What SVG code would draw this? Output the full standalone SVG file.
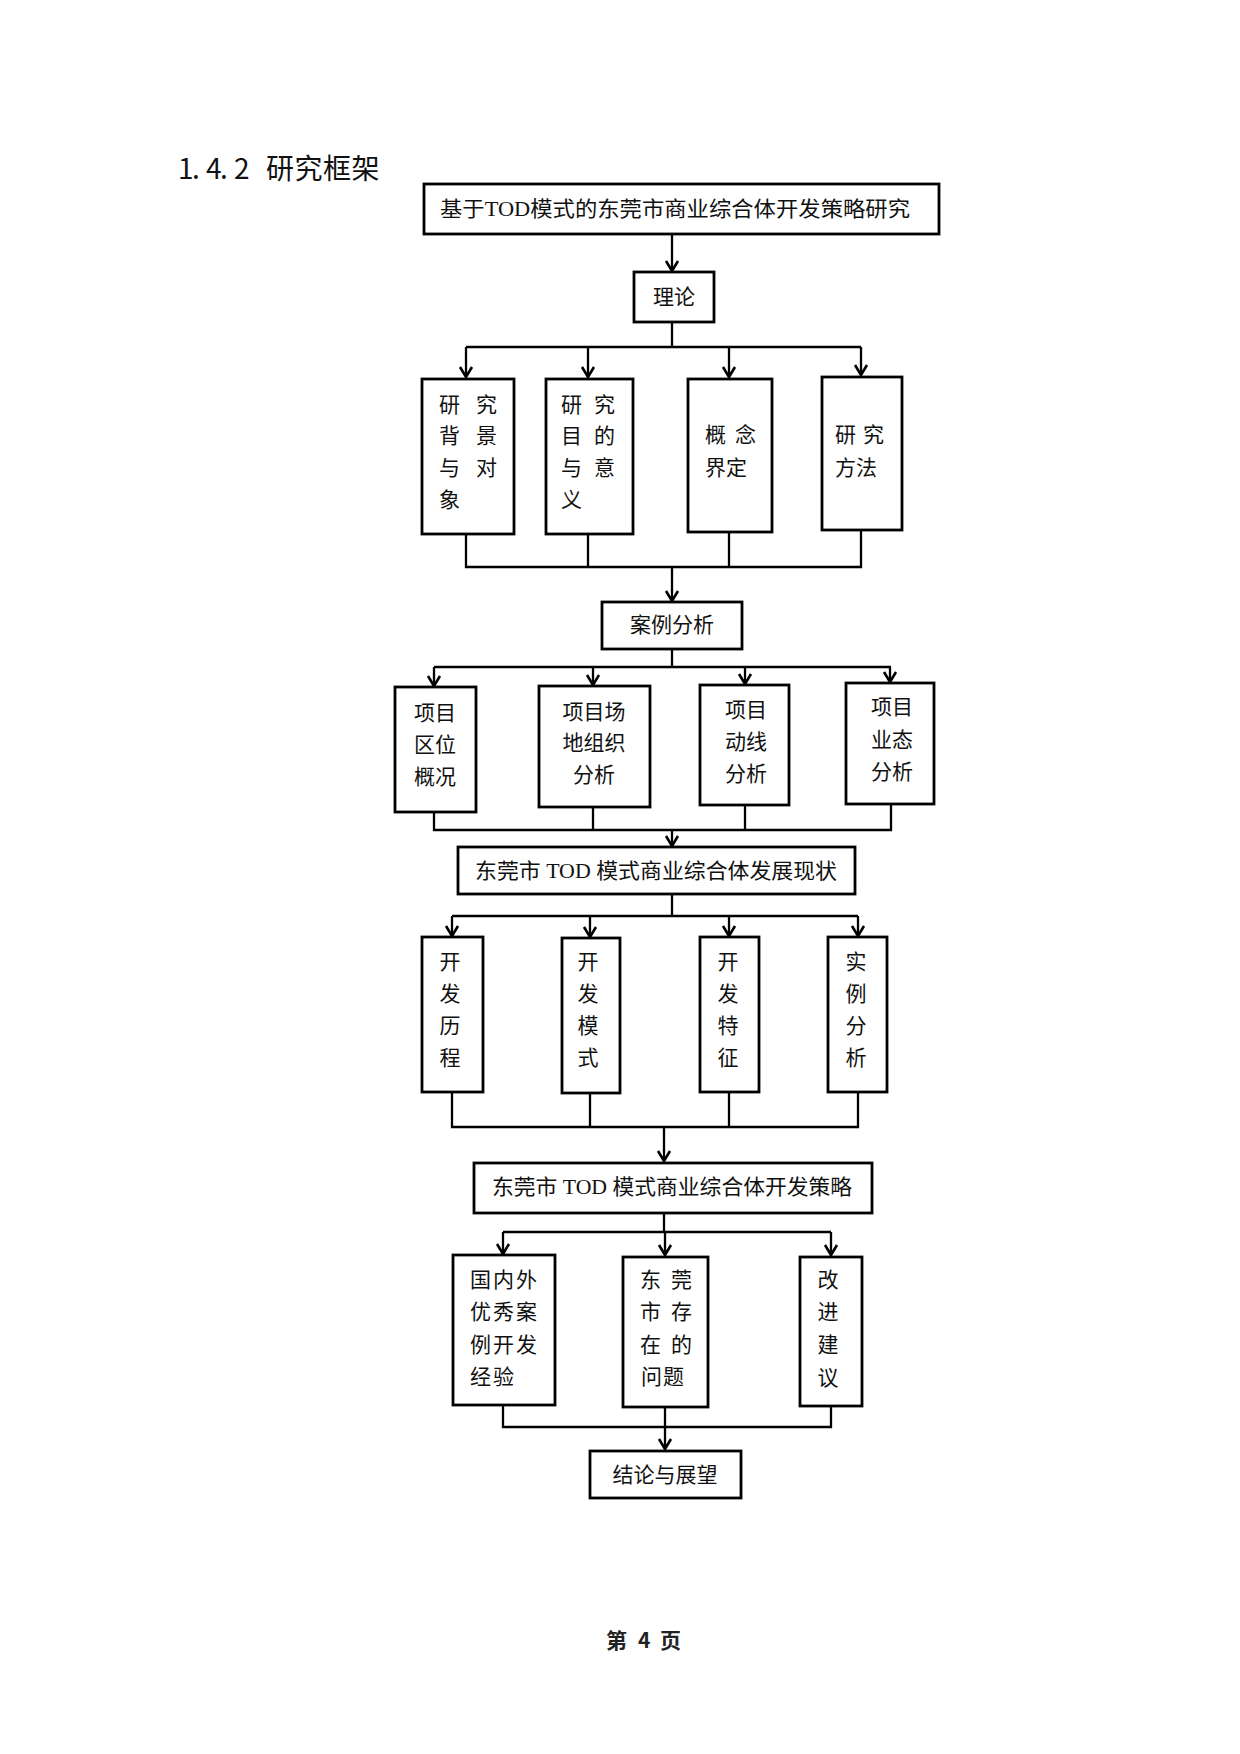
<svg xmlns="http://www.w3.org/2000/svg" width="1240" height="1754" viewBox="0 0 1240 1754">
<style>
.box{fill:#fff;stroke:#000;stroke-width:2.8}
.ln{fill:none;stroke:#000;stroke-width:2.3}
.arr{fill:none;stroke:#000;stroke-width:2.3;marker-end:url(#ah)}
.t{font-family:"Liberation Serif","Noto Sans CJK SC",serif;font-size:21px;fill:#111;dominant-baseline:central}
.c{text-anchor:middle}
.title{font-family:"Noto Sans CJK SC","Liberation Sans",sans-serif;font-size:28px;fill:#111;dominant-baseline:central}
.foot{font-family:"Noto Sans CJK SC","Liberation Sans",sans-serif;font-size:21px;font-weight:bold;fill:#222;dominant-baseline:central}
</style>
<defs>
<marker id="ah" markerUnits="userSpaceOnUse" markerWidth="14" markerHeight="16" refX="12" refY="8" orient="auto" overflow="visible">
<path d="M2,2 L12,8 L2,14" fill="none" stroke="#000" stroke-width="2.6"/>
</marker>
</defs>
<rect width="1240" height="1754" fill="#fff"/>

<g id="heading">
<text class="title" x="178 192 206 220 234 252 266 294.5 323 351.5" y="167">1.4.2 研究框架</text>
</g>

<g id="connectors">
<path class="arr" d="M672,234 V271"/>
<path class="ln" d="M672,322 V347"/>
<path class="ln" d="M466,347 H861"/>
<path class="arr" d="M466,347 V377"/>
<path class="arr" d="M588,347 V377"/>
<path class="arr" d="M729,347 V377"/>
<path class="arr" d="M861,347 V375"/>
<path class="ln" d="M466,534 V567 H861 V530"/>
<path class="ln" d="M588,534 V567"/>
<path class="ln" d="M729,532 V567"/>
<path class="arr" d="M672,567 V601"/>
<path class="ln" d="M672,649 V667"/>
<path class="ln" d="M434,667 H891"/>
<path class="arr" d="M434,667 V686"/>
<path class="arr" d="M593,667 V685"/>
<path class="arr" d="M745,667 V684"/>
<path class="arr" d="M890,667 V682"/>
<path class="ln" d="M434,812 V830 H891 V804"/>
<path class="ln" d="M593,807 V830"/>
<path class="ln" d="M745,805 V830"/>
<path class="arr" d="M672,830 V846"/>
<path class="ln" d="M672,894 V916"/>
<path class="ln" d="M452,916 H858"/>
<path class="arr" d="M452,916 V936"/>
<path class="arr" d="M590,916 V937"/>
<path class="arr" d="M729,916 V936"/>
<path class="arr" d="M858,916 V936"/>
<path class="ln" d="M452,1092 V1127 H858 V1092"/>
<path class="ln" d="M590,1093 V1127"/>
<path class="ln" d="M729,1092 V1127"/>
<path class="arr" d="M664,1127 V1161"/>
<path class="ln" d="M664,1213 V1232"/>
<path class="ln" d="M503,1232 H831"/>
<path class="arr" d="M503,1232 V1254"/>
<path class="arr" d="M665,1232 V1255"/>
<path class="arr" d="M831,1232 V1255"/>
<path class="ln" d="M503,1405 V1427 H831 V1406"/>
<path class="ln" d="M665,1407 V1427"/>
<path class="arr" d="M665,1427 V1449"/>
</g>

<g id="n_top">
<rect class="box" x="424" y="184" width="515" height="50"/>
<text class="t" x="440" y="209" textLength="470" lengthAdjust="spacingAndGlyphs">基于TOD模式的东莞市商业综合体开发策略研究</text>
</g>

<g id="n_theory">
<rect class="box" x="634" y="272" width="80" height="50"/>
<text class="t c" x="674" y="297">理论</text>
</g>

<g id="n_bg">
<rect class="box" x="422" y="379" width="92" height="155"/>
<text class="t" x="439 460 476" y="405">研 究</text>
<text class="t" x="439 460 476" y="436">背 景</text>
<text class="t" x="439 460 476" y="468">与 对</text>
<text class="t" x="439" y="500">象</text>
</g>

<g id="n_purpose">
<rect class="box" x="546" y="379" width="87" height="155"/>
<text class="t" x="561 582 594" y="405">研 究</text>
<text class="t" x="561 582 594" y="436">目 的</text>
<text class="t" x="561 582 594" y="468">与 意</text>
<text class="t" x="561" y="500">义</text>
</g>

<g id="n_concept">
<rect class="box" x="688" y="379" width="84" height="153"/>
<text class="t" x="705 726 735" y="435">概 念</text>
<text class="t" x="705" y="468">界定</text>
</g>

<g id="n_method">
<rect class="box" x="822" y="377" width="80" height="153"/>
<text class="t" x="835 856 863" y="435">研 究</text>
<text class="t" x="835" y="468">方法</text>
</g>

<g id="n_case">
<rect class="box" x="602" y="602" width="140" height="47"/>
<text class="t c" x="672" y="625">案例分析</text>
</g>

<g id="n_loc">
<rect class="box" x="395" y="687" width="81" height="125"/>
<text class="t c" x="435" y="713">项目</text>
<text class="t c" x="435" y="745">区位</text>
<text class="t c" x="435" y="777">概况</text>
</g>

<g id="n_site">
<rect class="box" x="539" y="686" width="111" height="121"/>
<text class="t c" x="594" y="712">项目场</text>
<text class="t c" x="594" y="743">地组织</text>
<text class="t c" x="594" y="775">分析</text>
</g>

<g id="n_flow">
<rect class="box" x="700" y="685" width="89" height="120"/>
<text class="t c" x="746" y="710">项目</text>
<text class="t c" x="746" y="742">动线</text>
<text class="t c" x="746" y="774">分析</text>
</g>

<g id="n_format">
<rect class="box" x="846" y="683" width="88" height="121"/>
<text class="t c" x="892" y="707">项目</text>
<text class="t c" x="892" y="740">业态</text>
<text class="t c" x="892" y="772">分析</text>
</g>

<g id="n_status">
<rect class="box" x="458" y="847" width="397" height="47"/>
<text class="t" x="475" y="871" textLength="362" lengthAdjust="spacingAndGlyphs">东莞市 TOD 模式商业综合体发展现状</text>
</g>

<g id="n_history">
<rect class="box" x="422" y="937" width="61" height="155"/>
<text class="t c" x="450" y="962">开</text>
<text class="t c" x="450" y="994">发</text>
<text class="t c" x="450" y="1026">历</text>
<text class="t c" x="450" y="1058">程</text>
</g>

<g id="n_mode">
<rect class="box" x="562" y="938" width="58" height="155"/>
<text class="t c" x="588" y="962">开</text>
<text class="t c" x="588" y="994">发</text>
<text class="t c" x="588" y="1026">模</text>
<text class="t c" x="588" y="1058">式</text>
</g>

<g id="n_feature">
<rect class="box" x="700" y="937" width="59" height="155"/>
<text class="t c" x="728" y="962">开</text>
<text class="t c" x="728" y="994">发</text>
<text class="t c" x="728" y="1026">特</text>
<text class="t c" x="728" y="1058">征</text>
</g>

<g id="n_example">
<rect class="box" x="828" y="937" width="59" height="155"/>
<text class="t c" x="856" y="962">实</text>
<text class="t c" x="856" y="994">例</text>
<text class="t c" x="856" y="1026">分</text>
<text class="t c" x="856" y="1058">析</text>
</g>

<g id="n_strategy">
<rect class="box" x="474" y="1163" width="398" height="50"/>
<text class="t" x="492" y="1187" textLength="360" lengthAdjust="spacingAndGlyphs">东莞市 TOD 模式商业综合体开发策略</text>
</g>

<g id="n_experience">
<rect class="box" x="453" y="1255" width="102" height="150"/>
<text class="t" x="470 493 516" y="1280">国内外</text>
<text class="t" x="470 493 516" y="1312">优秀案</text>
<text class="t" x="470 493 516" y="1345">例开发</text>
<text class="t" x="470 493" y="1377">经验</text>
</g>

<g id="n_problem">
<rect class="box" x="623" y="1257" width="85" height="150"/>
<text class="t" x="640 661 671" y="1280">东 莞</text>
<text class="t" x="640 661 671" y="1312">市 存</text>
<text class="t" x="640 661 671" y="1345">在 的</text>
<text class="t" x="641 663" y="1377">问题</text>
</g>

<g id="n_advice">
<rect class="box" x="800" y="1257" width="62" height="149"/>
<text class="t c" x="828" y="1280">改</text>
<text class="t c" x="828" y="1312">进</text>
<text class="t c" x="828" y="1345">建</text>
<text class="t c" x="828" y="1378">议</text>
</g>

<g id="n_conclusion">
<rect class="box" x="590" y="1451" width="151" height="47"/>
<text class="t c" x="665" y="1475">结论与展望</text>
</g>

<g id="footer">
<text class="foot" x="606 627 638 650 660" y="1639">第 4 页</text>
</g>
</svg>
